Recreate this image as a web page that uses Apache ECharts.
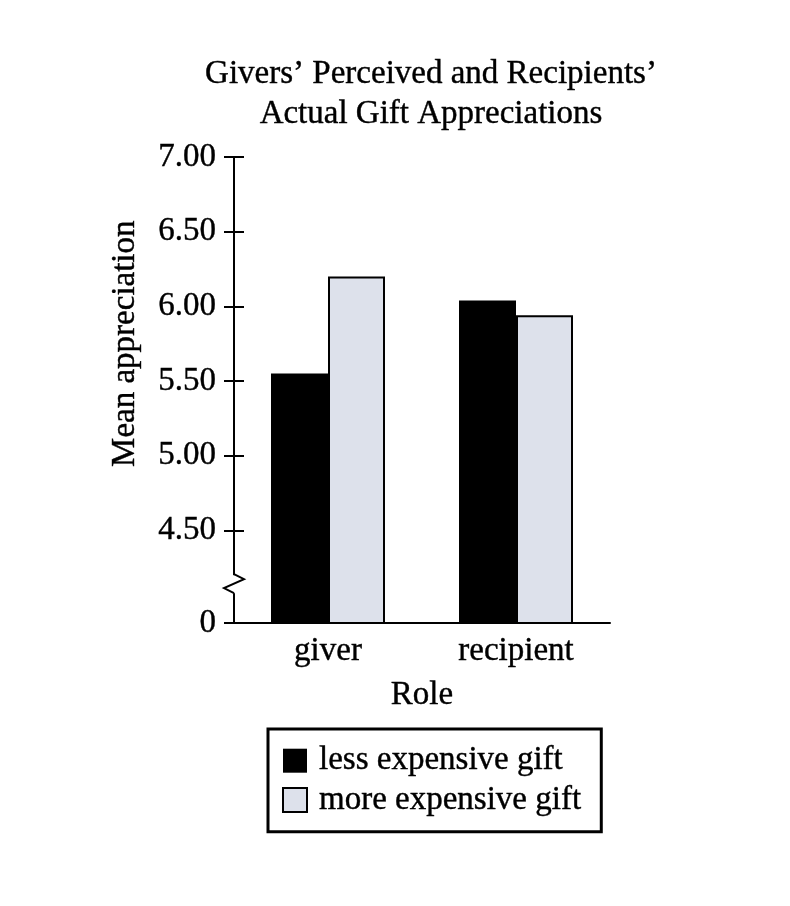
<!DOCTYPE html>
<html>
<head>
<meta charset="utf-8">
<script src="https://cdn.jsdelivr.net/npm/echarts@6/dist/echarts.min.js"></script>
<style>
html,body{margin:0;padding:0;background:#fff;}
#chart{width:790px;height:906px;}
</style>
</head>
<body>
<div id="chart"></div>
<script>
// ---- data ----
const categories = ['giver', 'recipient'];
const seriesNames = ['less expensive gift', 'more expensive gift'];
const lessExpensive = [5.55, 6.04];
const moreExpensive = [6.20, 5.94];
const tickValues = [4.5, 5.0, 5.5, 6.0, 6.5, 7.0];
const tickLabels = ['4.50', '5.00', '5.50', '6.00', '6.50', '7.00'];
const axisFloor = 3.88;      // broken axis: shown as "0"
const axisFloorLabel = '0';
const axisTop = 7.0;
const breakValue = 4.14;     // where the zigzag sits

const FONT = '"Liberation Serif", "DejaVu Serif", serif';
const FS = 33;
const TB = {textBorderColor: '#000', textBorderWidth: 0.4};
const chart = echarts.init(document.getElementById('chart'), null, {renderer: 'canvas'});

function fmt(v) {
  if (Math.abs(v - axisFloor) < 1e-6) return axisFloorLabel;
  const i = tickValues.findIndex(t => Math.abs(t - v) < 1e-6);
  return i >= 0 ? tickLabels[i] : '';
}

const option = {
  backgroundColor: '#fff',
  animation: false,
  title: {
    text: 'Givers\u2019 Perceived and Recipients\u2019\nActual Gift Appreciations',
    left: 426,
    textAlign: 'center',
    top: 49,
    textStyle: Object.assign({fontFamily: FONT, fontSize: FS, fontWeight: 'normal', color: '#000', lineHeight: 40}, TB)
  },
  legend: {
    orient: 'vertical',
    left: 268,
    top: 729,
    data: seriesNames,
    icon: 'rect',
    itemWidth: 24,
    itemHeight: 24,
    itemGap: 6,
    padding: [15, 20, 15, 14],
    borderColor: '#000',
    borderWidth: 3,
    borderRadius: 0,
    textStyle: Object.assign({fontFamily: FONT, fontSize: FS, color: '#000', lineHeight: 32, padding: [0, 0, 0, 7]}, TB)
  },
  grid: {left: 234, right: 180, top: 157, bottom: 283, containLabel: false},
  xAxis: {
    type: 'category',
    data: categories,
    name: 'Role',
    nameLocation: 'middle',
    nameGap: 56,
    nameTextStyle: Object.assign({fontFamily: FONT, fontSize: FS, color: '#000'}, TB),
    axisLine: {show: true, lineStyle: {color: '#000', width: 2}},
    axisTick: {show: false},
    axisLabel: Object.assign({fontFamily: FONT, fontSize: FS, color: '#000', margin: 12}, TB),
    splitLine: {show: false}
  },
  yAxis: [
    {
      type: 'value',
      min: axisFloor,
      max: axisTop,
      position: 'left',
      axisLine: {show: true, lineStyle: {color: '#000', width: 2}},
      axisTick: {show: true, inside: false, length: 10, lineStyle: {color: '#000', width: 2},
                 customValues: [axisFloor].concat(tickValues)},
      axisLabel: Object.assign({fontFamily: FONT, fontSize: FS, color: '#000', margin: 18,
                  customValues: [axisFloor].concat(tickValues), formatter: fmt}, TB),
      splitLine: {show: false}
    },
    {
      type: 'value',
      min: axisFloor,
      max: axisTop,
      position: 'left',
      offset: 0,
      axisLine: {show: false},
      axisTick: {show: true, inside: true, length: 10, lineStyle: {color: '#000', width: 2},
                 customValues: tickValues},
      axisLabel: {show: false},
      splitLine: {show: false}
    }
  ],
  series: [
    {
      name: seriesNames[0],
      type: 'bar',
      data: lessExpensive,
      barWidth: 57,
      barGap: '0%',
      itemStyle: {color: '#000', borderColor: '#000', borderWidth: 0}
    },
    {
      name: seriesNames[1],
      type: 'bar',
      data: moreExpensive,
      barWidth: 57,
      barGap: '0%',
      itemStyle: {color: '#dde1eb', borderColor: '#000', borderWidth: 2}
    }
  ]
};
chart.setOption(option);

// decorations: axis break zigzag and rotated y-axis name
const c0 = chart.convertToPixel({xAxisIndex: 0}, categories[0]);
const c1 = chart.convertToPixel({xAxisIndex: 0}, categories[1]);
const ax = c0 - (c1 - c0) / 2;
const yb = chart.convertToPixel({yAxisIndex: 0}, breakValue);
const yTop = chart.convertToPixel({yAxisIndex: 0}, axisTop);
const y45 = chart.convertToPixel({yAxisIndex: 0}, tickValues[0]);
chart.setOption({
  graphic: [
    {type: 'rect', shape: {x: ax - 3, y: yb - 9, width: 6, height: 18}, style: {fill: '#fff'}, z: 100},
    {type: 'polyline', shape: {points: [[ax, yb - 10], [ax + 10, yb - 5], [ax - 10, yb + 4], [ax, yb + 9]]},
     style: {stroke: '#000', lineWidth: 2, fill: null}, z: 101},
    {type: 'text', x: 125, y: (yTop + y45) / 2, rotation: Math.PI / 2, z: 50,
     style: {text: 'Mean appreciation', font: FS + 'px ' + FONT, fill: '#000', stroke: '#000', lineWidth: 0.4,
             align: 'center', verticalAlign: 'middle'}}
  ]
});
</script>
</body>
</html>
